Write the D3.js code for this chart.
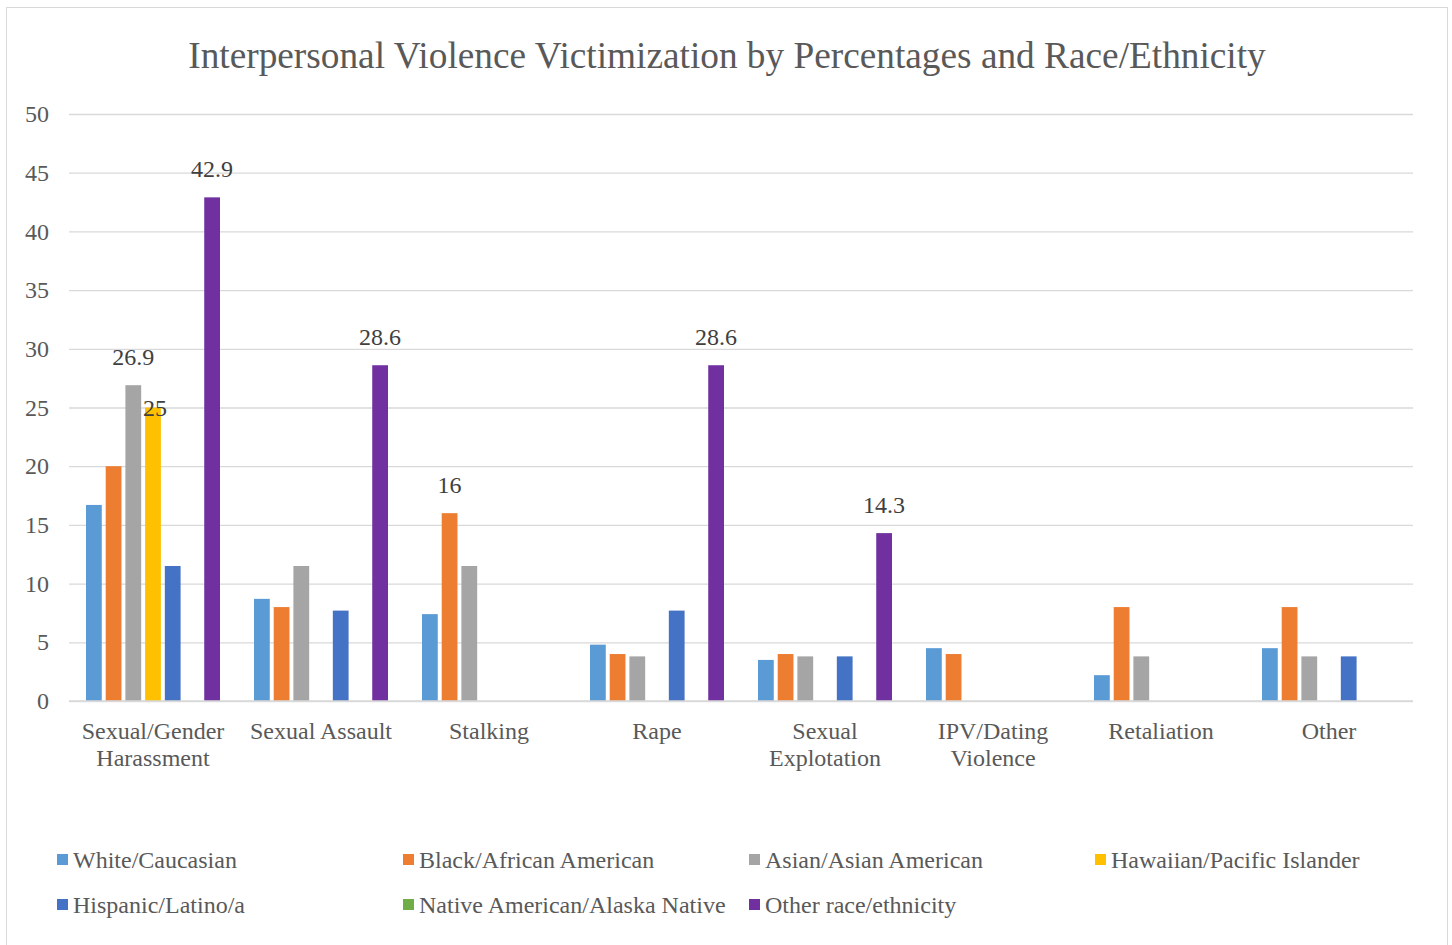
<!DOCTYPE html>
<html>
<head>
<meta charset="utf-8">
<script src="https://cdn.jsdelivr.net/npm/d3@7"></script>
<style>
  html, body { margin: 0; padding: 0; background: #fff; }
  svg { display: block; }
  text { font-family: "Liberation Serif", "Times New Roman", serif; }
</style>
</head>
<body>
<svg id="chart" width="1452" height="945"></svg>
<script>
const title = "Interpersonal Violence Victimization by Percentages and Race/Ethnicity";
const categories = [
  ["Sexual/Gender", "Harassment"],
  ["Sexual Assault"],
  ["Stalking"],
  ["Rape"],
  ["Sexual", "Explotation"],
  ["IPV/Dating", "Violence"],
  ["Retaliation"],
  ["Other"]
];
const seriesNames = [
  "White/Caucasian",
  "Black/African American",
  "Asian/Asian American",
  "Hawaiian/Pacific Islander",
  "Hispanic/Latino/a",
  "Native American/Alaska Native",
  "Other race/ethnicity"
];
const seriesColors = ["#5B9BD5", "#ED7D31", "#A5A5A5", "#FFC000", "#4472C4", "#70AD47", "#7030A0"];
// values per series, one per category (0 = no bar)
const white    = [16.7, 8.7, 7.4, 4.8, 3.5, 4.5, 2.2, 4.5];
const black    = [20.0, 8.0, 16.0, 4.0, 4.0, 4.0, 8.0, 8.0];
const asian    = [26.9, 11.5, 11.5, 3.8, 3.8, 0, 3.8, 3.8];
const hawaiian = [25.0, 0, 0, 0, 0, 0, 0, 0];
const hispanic = [11.5, 7.7, 0, 7.7, 3.8, 0, 0, 3.8];
const native   = [0, 0, 0, 0, 0, 0, 0, 0];
const otherRace= [42.9, 28.6, 0, 28.6, 14.3, 0, 0, 0];
const seriesValues = [white, black, asian, hawaiian, hispanic, native, otherRace];
// data labels shown: [seriesIndex, categoryIndex]
const labelled = [[6,0],[2,0],[3,0],[6,1],[1,2],[6,3],[6,4]];
const yTicks = [0, 5, 10, 15, 20, 25, 30, 35, 40, 45, 50];

const svg = d3.select("#chart");
// outer border
svg.append("rect").attr("x", 6.5).attr("y", 7.5).attr("width", 1441).attr("height", 945)
  .attr("fill", "#fff").attr("stroke", "#D9D9D9").attr("stroke-width", 1);

const plot = { left: 69, right: 1413, top: 114, bottom: 701 };
const y = d3.scaleLinear().domain([0, 50]).range([plot.bottom, plot.top]);
const x0 = d3.scaleBand().domain(d3.range(categories.length)).range([plot.left, plot.right]).padding(0);
const x1 = d3.scaleBand().domain(d3.range(seriesNames.length))
  .range([17, x0.bandwidth() - 17]).paddingInner(0.2).paddingOuter(0);

// title
svg.append("text").attr("x", 727).attr("y", 68).attr("text-anchor", "middle")
  .attr("font-size", 37.3).attr("fill", "#595959").text(title);

// gridlines
const grid = svg.append("g").attr("transform", `translate(${plot.left},0)`)
  .call(d3.axisLeft(y).tickValues(yTicks).tickSize(-(plot.right - plot.left)).tickFormat(""));
grid.select(".domain").remove();
grid.selectAll("line").attr("stroke", "#D9D9D9").attr("stroke-width", 1.3);

// y tick labels
const yAxis = svg.append("g").attr("transform", `translate(${plot.left},0)`)
  .call(d3.axisLeft(y).tickValues(yTicks).tickSize(0).tickPadding(20));
yAxis.select(".domain").remove();
yAxis.selectAll("text").attr("font-family", "Liberation Serif, serif").attr("font-size", 24).attr("fill", "#595959");

// bars
const groups = svg.append("g").selectAll("g").data(categories).join("g")
  .attr("transform", (d, i) => `translate(${x0(i)},0)`);
groups.selectAll("rect").data((d, ci) => seriesValues.map((s, si) => ({ si, ci, v: s[ci] })))
  .join("rect")
  .filter(d => d.v > 0)
  .attr("x", d => x1(d.si)).attr("width", x1.bandwidth())
  .attr("y", d => y(d.v)).attr("height", d => y(0) - y(d.v))
  .attr("fill", d => seriesColors[d.si]);

// baseline
svg.append("line").attr("x1", plot.left).attr("x2", plot.right)
  .attr("y1", y(0)).attr("y2", y(0)).attr("stroke", "#D9D9D9").attr("stroke-width", 1.5);

// data labels
labelled.forEach(([si, ci]) => {
  const v = seriesValues[si][ci];
  const cx = x0(ci) + x1(si) + x1.bandwidth() / 2;
  // Hawaiian label collides with the Asian label; Excel nudged it onto the bar top
  const ty = si === 3 ? y(v) + 8 : y(v) - 20;
  svg.append("text").attr("x", cx + (si === 3 ? 2 : 0)).attr("y", ty)
    .attr("text-anchor", "middle").attr("font-size", 24).attr("fill", "#404040").text(v);
});

// category labels
categories.forEach((lines, i) => {
  const t = svg.append("text").attr("x", x0(i) + x0.bandwidth() / 2).attr("y", 739)
    .attr("text-anchor", "middle").attr("font-size", 24).attr("fill", "#595959");
  lines.forEach((l, j) => t.append("tspan").attr("x", x0(i) + x0.bandwidth() / 2).attr("dy", j ? 27 : 0).text(l));
});

// legend
const legend = svg.append("g");
seriesNames.forEach((name, i) => {
  const col = i % 4, row = Math.floor(i / 4);
  const lx = 57 + col * 346, ly = 860 + row * 45;
  legend.append("rect").attr("x", lx).attr("y", ly - 6).attr("width", 11).attr("height", 11).attr("fill", seriesColors[i]);
  legend.append("text").attr("x", lx + 16).attr("y", ly + 8).attr("font-size", 24).attr("fill", "#595959").text(name);
});
</script>
</body>
</html>
